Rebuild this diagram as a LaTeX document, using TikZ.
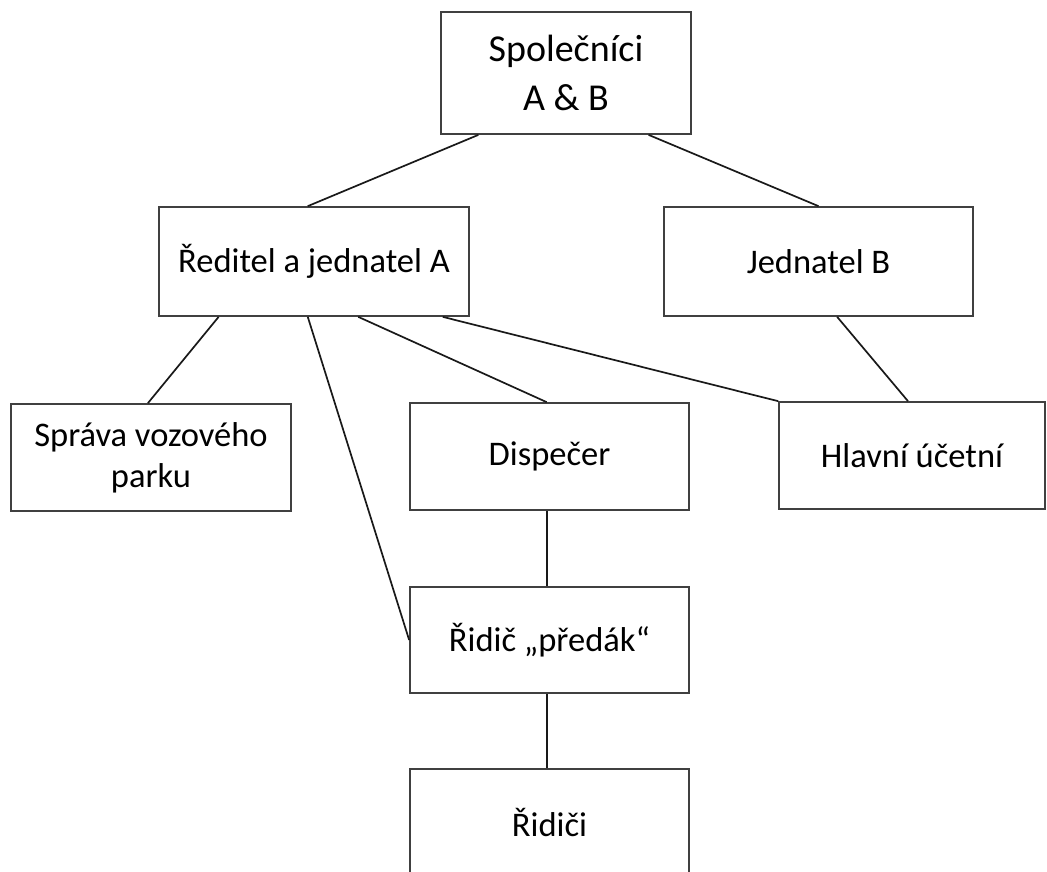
\documentclass[tikz,border=0pt]{standalone}
\usepackage{fontspec}
\setmainfont{Carlito}
\usetikzlibrary{calc}
\begin{document}
\begin{tikzpicture}[x=1pt,y=-1pt,
  unit/.style={draw=black!75,line width=1.7pt,fill=white,rectangle,inner sep=0pt,
    align=center,font=\fontsize{34.5}{41}\selectfont},
  link/.style={line width=1.7pt,black!90}]
\useasboundingbox (0,0) rectangle (1047,871);
\clip (0,0) rectangle (1047,871);

% organisation units
\node[unit,minimum width=250pt,minimum height=122pt,
  font=\fontsize{38}{49}\selectfont] (top) at (566,73) {Společníci\\A \& B};
\node[unit,minimum width=310pt,minimum height=109pt] (red) at (314,261.5) {Ředitel a jednatel A};
\node[unit,minimum width=309pt,minimum height=109pt] (jedb) at (818.5,261.5) {Jednatel B};
\node[unit,minimum width=280pt,minimum height=107pt] (sprava) at (151,457.5) {Správa vozového\\parku};
\node[unit,minimum width=279pt,minimum height=107pt] (disp) at (549.5,456.5) {Dispečer};
\node[unit,minimum width=266pt,minimum height=107pt] (hlav) at (912,455.5) {Hlavní účetní};
\node[unit,minimum width=279pt,minimum height=106pt] (predak) at (549.5,640) {Řidič „předák“};
\node[unit,minimum width=279pt,minimum height=107pt] (ridici) at (549.5,822.5) {Řidiči};

% reporting lines
\draw[link] ($(top.south west)!0.152!(top.south east)$) -- ($(red.north west)!0.48!(red.north east)$);
\draw[link] ($(top.south west)!0.828!(top.south east)$) -- (jedb.north);
\draw[link] ($(red.south west)!0.194!(red.south east)$) -- ($(sprava.north west)!0.489!(sprava.north east)$);
\draw[link] ($(red.south west)!0.48!(red.south east)$) -- (predak.west);
\draw[link] ($(red.south west)!0.642!(red.south east)$) -- ($(disp.north west)!0.49!(disp.north east)$);
\draw[link] ($(red.south west)!0.913!(red.south east)$) -- (hlav.north west);
\draw[link] ($(jedb.south west)!0.56!(jedb.south east)$) -- ($(hlav.north west)!0.485!(hlav.north east)$);
\draw[link] ($(disp.south west)!0.49!(disp.south east)$) -- ($(predak.north west)!0.49!(predak.north east)$);
\draw[link] ($(predak.south west)!0.49!(predak.south east)$) -- ($(ridici.north west)!0.49!(ridici.north east)$);
\end{tikzpicture}
\end{document}
